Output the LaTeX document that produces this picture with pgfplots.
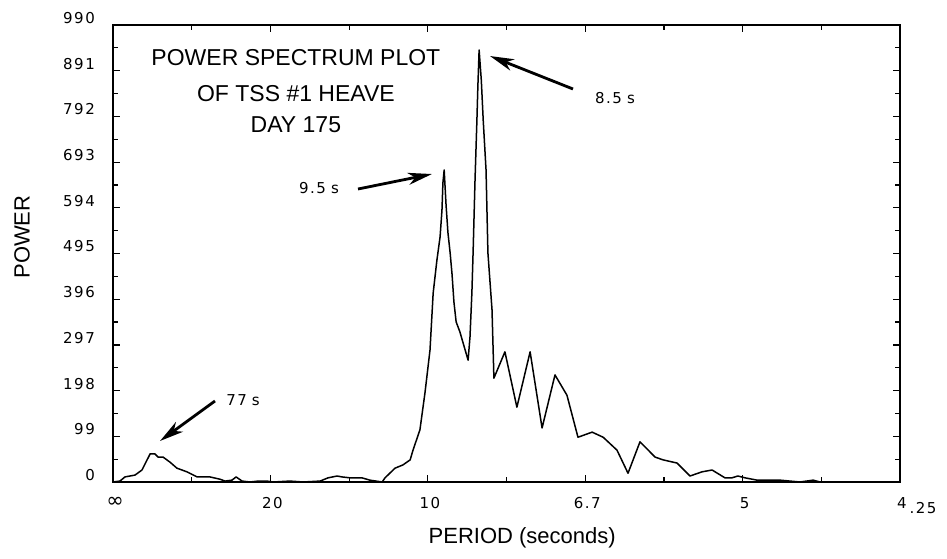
\documentclass[border=0pt]{standalone}
\usepackage{pgfplots}
\pgfplotsset{compat=1.18}
\usepackage{fontspec}
\setmainfont{Liberation Sans}
\newfontfamily\tickfont{DejaVu Sans}[LetterSpace=10]
\newfontfamily\symfont{DejaVu Sans}
\usetikzlibrary{arrows.meta}
\begin{document}
\begin{tikzpicture}
\useasboundingbox (0,0) rectangle (947bp,559bp);
\begin{axis}[
  at={(113bp,77bp)}, anchor=south west,
  scale only axis, width=787bp, height=457bp,
  xmin=0, xmax=0.25, ymin=0, ymax=990,
  xtick={0,0.05,0.1,0.15,0.2,0.25},
  xticklabels={{\symfont\fontsize{21bp}{21bp}\selectfont ∞},20,10,6.7,5,4},
  minor xtick={0.025,0.075,0.125,0.175,0.225},
  ytick={0,99,198,297,396,495,594,693,792,891,990},
  yticklabels={0,99,198,297,396,495,594,693,792,891,990},
  minor ytick={49.5,148.5,247.5,346.5,445.5,544.5,643.5,742.5,841.5,940.5},
  xtick pos=both, ytick pos=both,
  xticklabel pos=lower, yticklabel pos=left,
  tick align=inside,
  major tick length=7bp, minor tick length=5bp,
  every tick/.style={black, line width=1.2bp},
  axis line style={line width=1.6bp},
  tick label style={font=\tickfont\fontsize{15bp}{17bp}\selectfont, inner sep=0pt},
  yticklabel style={anchor=east, xshift=-18bp, yshift=7bp},
  xticklabel style={anchor=north, yshift=-15bp, xshift=2bp},
  xlabel={PERIOD (seconds)},
  ylabel={POWER},
  label style={font=\fontsize{22bp}{26bp}\selectfont},
  xlabel style={at={(axis description cs:0.52,-0.1225)}, anchor=center},
  ylabel style={at={(axis description cs:-0.1156,0.536)}, anchor=center, rotate=0},
  clip=false,
]
\addplot[black, line width=1.5bp, line join=round] table {
f P
0 0
0.0022 2
0.0038 11
0.0070 15
0.0092 26
0.0118 61
0.0133 61
0.0143 54
0.0159 54
0.0181 43
0.0203 30
0.0235 22
0.0267 11
0.0308 11
0.0340 6
0.0356 2
0.0378 4
0.0391 11
0.0410 2
0.0435 0
0.0461 2
0.0489 2
0.0508 0
0.0562 2
0.0604 0
0.0658 2
0.0683 9
0.0712 13
0.0727 11
0.0753 9
0.0791 9
0.0816 4
0.0855 0
0.0864 9
0.0896 30
0.0921 37
0.0944 48
0.0953 69
0.0975 113
0.0991 193
0.1007 286
0.1017 409
0.1029 481
0.1039 531
0.1045 589
0.1048 648
0.1052 676
0.1058 600
0.1064 540
0.1071 496
0.1077 450
0.1083 390
0.1090 347
0.1102 325
0.1128 264
0.1134 314
0.1140 409
0.1144 500
0.1150 654
0.1156 784
0.1159 856
0.1163 936
0.1170 870
0.1176 784
0.1185 676
0.1191 496
0.1204 373
0.1210 225
0.1245 282
0.1283 162
0.1325 282
0.1363 117
0.1404 232
0.1442 188
0.1477 97
0.1522 108
0.1557 97
0.1601 69
0.1636 19
0.1674 87
0.1722 54
0.1747 48
0.1792 41
0.1833 13
0.1871 22
0.1903 26
0.1944 9
0.1966 9
0.1985 13
0.2008 9
0.2046 4
0.2119 4
0.2182 0
0.2224 4
0.2246 0
0.25 0
};
% title
\node[anchor=base, font=\fontsize{23bp}{27bp}\selectfont] at (axis cs:0.0581,903) {POWER SPECTRUM PLOT};
\node[anchor=base, font=\fontsize{23bp}{27bp}\selectfont] at (axis cs:0.0581,825) {OF TSS \#1 HEAVE};
\node[anchor=base, font=\fontsize{23bp}{27bp}\selectfont] at (axis cs:0.0581,758) {DAY 175};
% annotations
\draw[line width=2.8bp, -{Stealth[length=24bp,width=12bp,inset=7bp]}] (axis cs:0.14612,851.4) -- (axis cs:0.11976,922.8);
\draw[line width=2.8bp, -{Stealth[length=24bp,width=12bp,inset=7bp]}] (axis cs:0.07783,634.7) -- (axis cs:0.10133,667.2);
\draw[line width=2.8bp, -{Stealth[length=24bp,width=12bp,inset=7bp]}] (axis cs:0.03240,175.5) -- (axis cs:0.01493,88.8);
\node[font=\tickfont\fontsize{15bp}{17bp}\selectfont] at (axis cs:0.15947,831.9) {8.5\,\,s};
\node[font=\tickfont\fontsize{15bp}{17bp}\selectfont] at (axis cs:0.06544,636.9) {9.5\,\,s};
\node[font=\tickfont\fontsize{15bp}{17bp}\selectfont] at (axis cs:0.0413,177.6) {77\,\,s};
\end{axis}
\node[font=\tickfont\fontsize{15bp}{17bp}\selectfont] at (923bp,51bp) {.25};
\end{tikzpicture}
\end{document}
